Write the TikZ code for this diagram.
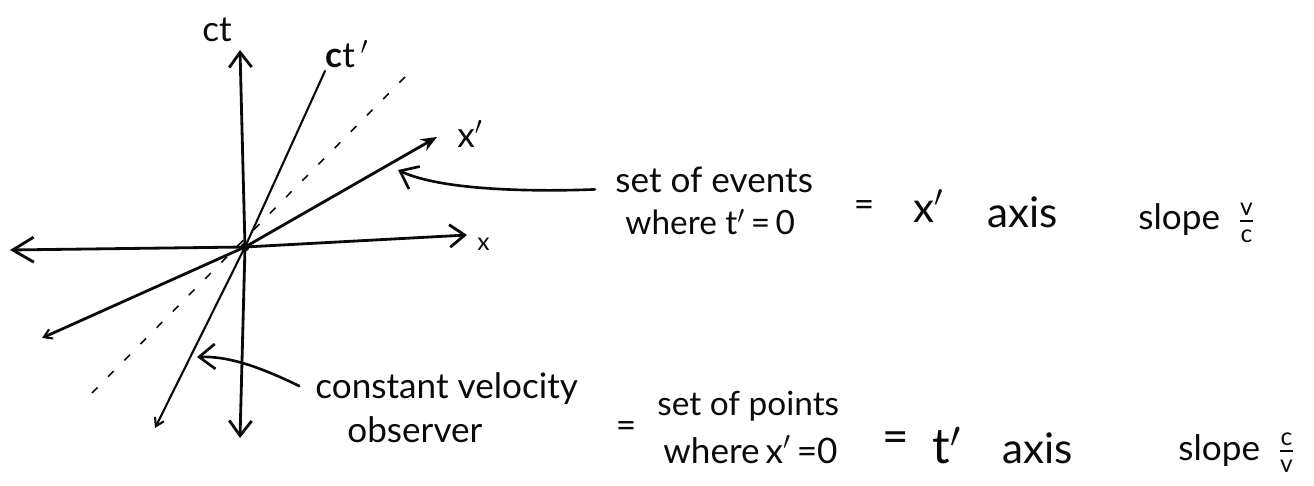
\documentclass[tikz,border=0pt]{standalone}
\usepackage{fontspec}
\setmainfont{Lato}
\usepackage{amsmath}
\usepackage{xcolor}
\definecolor{ink}{RGB}{10, 10, 10}
\usepackage{tikz}
\usetikzlibrary{arrows.meta, positioning}
\tikzset{
  axisline/.style={draw=ink, line width=1.6pt, line cap=round},
  thinline/.style={draw=ink, line width=1.2pt, line cap=round},
  conedash/.style={draw=ink, line width=0.9pt, dash pattern=on 0.16cm off 0.3cm},
  bigbarb/.style={-{Straight Barb[length=0.42cm, width=0.5cm, line width=1.6pt]}},
  midbarb/.style={-{Straight Barb[length=0.3cm, width=0.45cm, line width=1.6pt]}},
  tinybarb/.style={-{Straight Barb[length=0.16cm, width=0.2cm, line width=1.2pt]}},
  solidtip/.style={-{Stealth[length=0.32cm, width=0.26cm]}},
  annot/.style={draw=ink, line width=1.5pt, line cap=round,
    -{Straight Barb[length=0.32cm, width=0.5cm, line width=1.5pt]}},
  hand/.style={text=ink, inner sep=0pt, anchor=base west,
    text height=0.65em, text depth=0.15em,
    font=\fontsize{20}{24}\selectfont},
  bighand/.style={hand, font=\fontsize{24}{28}\selectfont},
  handeq/.style={text=ink, inner sep=1pt, font=\fontsize{20}{24}\selectfont}
}

\begin{document}
\begin{tikzpicture}[x=0.02cm, y=-0.02cm]
  \useasboundingbox (0,0) rectangle (1314,486);

  % axes of the rest frame
  \coordinate (O)    at (245,247);
  \coordinate (ctup) at (240,50);
  \coordinate (ctdn) at (240,438);
  \coordinate (xr)   at (467,235);
  \coordinate (xl)   at (10,250);
  \coordinate (xpu)  at (437,137);
  \coordinate (xpd)  at (42,338);
  \coordinate (ctpd) at (155,428);
  \coordinate (lc1)  at (405,77);
  \coordinate (lc2)  at (92,393);

  \node[hand] (ct)  at (202,42) {ct};
  \node[hand] (ctp) at (325,68) {\textbf{c}t\,$'$};
  \node[hand] (xp)  at (457,148) {x$'$};
  \node[hand, font=\fontsize{14}{16}\selectfont] (xlab) at (477,250) {x};

  \draw[axisline, midbarb] (O) -- (ctup);
  \draw[axisline, midbarb] (O) -- (ctdn);
  \draw[axisline, midbarb] (O) -- (xr);
  \draw[axisline, bigbarb] (O) -- (xl);
  \draw[axisline, solidtip] (O) -- (xpu);
  \draw[axisline, tinybarb] (O) -- (xpd);
  \draw[thinline] (O) -- (ctp.south west);
  \draw[thinline, tinybarb] (O) -- (ctpd);
  \draw[conedash] (lc1) -- (lc2);
  \fill[ink] (O) circle (4.5);

  % x' axis note
  \node[hand] (ev1) at (615,193) {set of events};
  \node[hand, font=\fontsize{19}{23}\selectfont] (ev2) at (625,235) {where t$'$\,=\,0};
  \node[handeq] (eq1) at (864,209) {=};
  \node[bighand] (xpax) at (913,222) {x$'$};
  \node[bighand] (axis1) at (987,227) {axis};
  \node[hand] (slope1) at (1138,230) {slope\ \ $\frac{\text{v}}{\text{c}}$};

  \coordinate (xptgt) at (398,170);
  \draw[annot, shorten <=0.4cm] (ev1.west) .. controls (530,192) and (440,190) .. (xptgt);

  % t' axis note
  \node[hand] (cv1) at (315,398) {constant velocity};
  \node[hand] (cv2) at (347,442) {observer};
  \node[handeq] (eq2) at (626,430) {=};
  \node[hand, font=\fontsize{19}{23}\selectfont] (sp1) at (657,415) {set of points};
  \node[hand] (sp2) at (663,463) {where\,x$'$\,=0};
  \node[handeq, font=\fontsize{26}{28}\selectfont] (eq3) at (896,442) {=};
  \node[hand, font=\fontsize{28}{30}\selectfont] (tpax) at (932,463) {t$'$};
  \node[bighand] (axis2) at (1002,463) {axis};
  \node[hand] (slope2) at (1178,460) {slope\ \ $\frac{\text{c}}{\text{v}}$};

  \coordinate (ctptgt) at (197,357);
  \draw[annot, shorten <=0.35cm] (cv1.west) .. controls (262,368) and (230,356) .. (ctptgt);

\end{tikzpicture}
\end{document}
